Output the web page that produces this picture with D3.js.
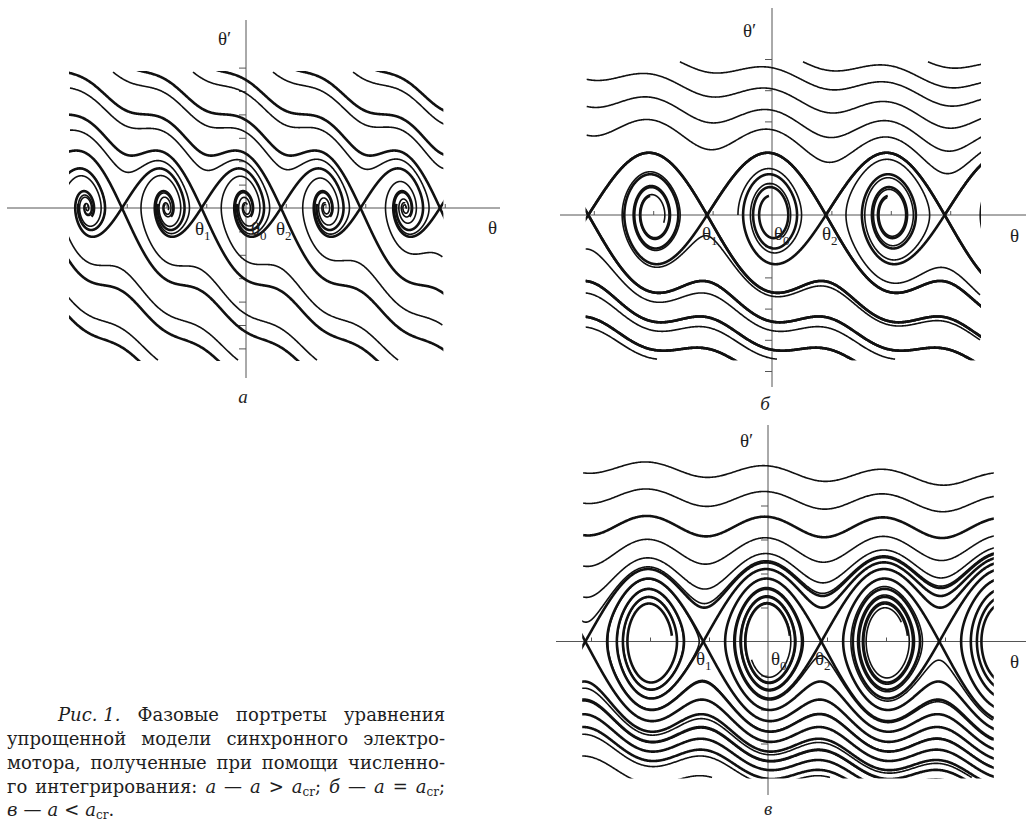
<!DOCTYPE html>
<html>
<head>
<meta charset="utf-8">
<script src="https://cdn.jsdelivr.net/npm/d3@7"></script>
<style>
  body { margin: 0; background: #fff; }
  svg { display: block; }
  text { font-family: "Liberation Serif", "DejaVu Serif", serif; fill: #1e1e1e; }
  .caption { font-family: "DejaVu Serif", "Liberation Serif", serif; }
</style>
</head>
<body>
<script>
var width = 1026, height = 822;
var PI = Math.PI;

// model: theta'' + a theta' + sin(theta) = b ; plotted against phi = theta - asin(b)
var modelA = [0.33, 0.187];   // [a, b]
var modelB = [null, 0.145];   // a = a_cr, found numerically
var modelC = [0.048, 0.15];

// plot boxes [phiMin, phiMax, vMin, vMax]
var boxA = [-13.91, 15.52, -6.5, 5.81];
var boxB = [-9.8, 11.0, -4.62, 4.91];
var boxC = [-9.84, 11.97, -4.0, 5.3];

// ordinary trajectories, start points: [phi, theta', thick, own time]
var startsA = [
  [-10.51, 5.81, 0], [-4.19, 5.81, 0], [2.13, 5.81, 0], [8.46, 5.81, 0],
  [-13.91, 5.13, 0], [-13.91, 3.33, 0], [-13.91, 1.54, 0],
  [-6.96, -6.5, 0], [-0.63, -6.5, 0], [5.61, -6.5, 0], [12.02, -6.5, 0],
  [15.52, -2.09, 0], [15.52, -5.0, 0]
];
var startsB = [
  [-4.87, 4.91, 0], [1.64, 4.91, 0], [8.25, 4.91, 0],
  [-9.8, 4.35, 0], [-9.8, 3.48, 0], [-9.8, 2.56, 0],
  [-6.08, -4.62, 0], [0.26, -4.62, 0], [6.51, -4.62, 0],
  [11.0, -2.56, 0], [11.0, -4.0, 0],
  [-1.8, 0, 0, 12]
];
var startsC = [
  [-9.84, 4.96, 0], [-9.84, 4.07, 0], [-9.84, 3.13, 1], [-9.84, 2.22, 0], [-9.84, 1.31, 0],
  [-2.98, -4.0, 0], [3.3, -4.0, 0], [5.74, -4.0, 0], [10.85, -4.0, 0],
  [11.97, -2.31, 0], [11.97, -2.9, 0], [11.97, -3.69, 0]
];

// [time of ordinary curves, time of unstable separatrices, first saddle, last saddle, first saddle with unstable branches]
var timesA = [20, 16, -5, 5, -5];
var timesB = [28, 26, -4, 4, -4];
var timesC = [32, 29, -5, 4, -2];

var svg = d3.select("body").append("svg").attr("width", width).attr("height", height);

function field(a, b) {
  var th0 = Math.asin(b);
  return function(p) { return [p[1], b - Math.sin(p[0] + th0) - a * p[1]]; };
}
function step(f, p, h) {
  var k1 = f(p);
  var k2 = f([p[0] + h / 2 * k1[0], p[1] + h / 2 * k1[1]]);
  var k3 = f([p[0] + h / 2 * k2[0], p[1] + h / 2 * k2[1]]);
  var k4 = f([p[0] + h * k3[0], p[1] + h * k3[1]]);
  return [p[0] + h / 6 * (k1[0] + 2 * k2[0] + 2 * k3[0] + k4[0]),
          p[1] + h / 6 * (k1[1] + 2 * k2[1] + 2 * k3[1] + k4[1])];
}
function run(f, p, h, T, lim) {
  var pts = [p];
  for (var t = 0; t < T; t += Math.abs(h)) {
    p = step(f, p, h);
    pts.push(p);
    if (p[0] < lim[0] || p[0] > lim[1] || p[1] < lim[2] || p[1] > lim[3]) break;
  }
  return pts;
}
function branches(a, b, s) {
  var c = Math.cos(Math.asin(b));
  var r = Math.sqrt(a * a + 4 * c);
  var lu = (-a + r) / 2, ls = (-a - r) / 2, e = 1e-3;
  var nu = Math.hypot(1, lu), ns = Math.hypot(1, ls);
  return [
    {p: [s + e / nu, e * lu / nu], h: 0.01, kind: "u"},
    {p: [s - e / nu, -e * lu / nu], h: 0.01, kind: "u"},
    {p: [s - e / ns, -e * ls / ns], h: -0.01, kind: "s"},
    {p: [s + e / ns, e * ls / ns], h: -0.01, kind: "s"}
  ];
}
// a_cr: the unstable branch of one saddle lands on the next one
function critical(b) {
  var lo = 0.01, hi = 0.6, s = PI - 2 * Math.asin(b);
  for (var i = 0; i < 40; i++) {
    var a = (lo + hi) / 2, f = field(a, b), p = branches(a, b, s)[0].p, over = false;
    for (var t = 0; t < 200; t += 0.005) {
      p = step(f, p, 0.005);
      if (p[1] <= 0) break;
      if (p[0] > s + 2 * PI) { over = true; break; }
    }
    if (over) lo = a; else hi = a;
  }
  return (lo + hi) / 2;
}
modelB[0] = critical(modelB[1]);

function drawPanel(cfg) {
  var a = cfg.model[0], b = cfg.model[1], box = cfg.box, tm = cfg.times;
  var x = d3.scaleLinear().domain([-2 * PI, 2 * PI]).range(cfg.xr);
  var y = d3.scaleLinear().domain([-1, 1]).range(cfg.yr);
  var g = svg.append("g");

  g.append("line").attr("x1", cfg.axisX[0]).attr("x2", cfg.axisX[1])
    .attr("y1", y(0)).attr("y2", y(0)).attr("stroke", "#555").attr("stroke-width", 1);
  g.append("line").attr("x1", x(0)).attr("x2", x(0))
    .attr("y1", cfg.axisY[0]).attr("y2", cfg.axisY[1]).attr("stroke", "#555").attr("stroke-width", 1);

  var xa = g.append("g").attr("transform", "translate(0," + y(0) + ")")
    .call(d3.axisTop(x).tickValues(cfg.xTicks.map(function(k){ return k * PI; })).tickSize(4).tickFormat(""));
  var ya = g.append("g").attr("transform", "translate(" + x(0) + ",0)")
    .call(d3.axisLeft(y).tickValues(cfg.yTicks).tickSize(7).tickFormat(""));
  [xa, ya].forEach(function(s){ s.select(".domain").remove(); s.selectAll("line").attr("stroke", "#555"); });

  var id = "clip" + cfg.id;
  svg.append("clipPath").attr("id", id).append("rect")
    .attr("x", x(box[0]) - 1).attr("y", y(box[3]) - 1)
    .attr("width", x(box[1]) - x(box[0]) + 2).attr("height", y(box[2]) - y(box[3]) + 2);
  var cg = g.append("g").attr("clip-path", "url(#" + id + ")")
    .attr("fill", "none").attr("stroke", "#111").attr("stroke-linejoin", "round");
  var line = d3.line().x(function(d){ return x(d[0]); }).y(function(d){ return y(d[1]); });
  var lim = [box[0] - 16, box[1] + 16, box[2] - 0.4, box[3] + 0.4];
  var f = field(a, b);

  cfg.starts.forEach(function(s) {
    cg.append("path").attr("d", line(run(f, [s[0], s[1]], 0.01, s[3] || tm[0], lim)))
      .attr("stroke-width", s[2] ? 2.6 : 1.6);
  });

  // separatrices of the saddles, drawn heavy
  var s0 = PI - 2 * Math.asin(b);
  for (var k = tm[2]; k <= tm[3]; k++) {
    branches(a, b, s0 + 2 * PI * k).forEach(function(br) {
      if (br.kind == "u" && k < tm[4]) return;
      var T = br.kind == "u" ? tm[1] : 60;
      cg.append("path").attr("d", line(run(f, br.p, br.h, T, lim))).attr("stroke-width", 2.6);
    });
  }

  cfg.labels.forEach(function(l) {
    var t = g.append("text").attr("x", l[2]).attr("y", l[3]).style("font-size", "19px").text(l[0]);
    if (l[1]) t.append("tspan").attr("dy", 5).style("font-size", "13px").text(l[1]);
  });
  g.append("text").attr("x", cfg.letter[1]).attr("y", cfg.letter[2]).attr("text-anchor", "middle")
    .style("font-size", "19px").style("font-style", "italic").text(cfg.letter[0]);
}

var TH = "\u03b8";
drawPanel({
  id: "A", model: modelA, box: boxA, starts: startsA, times: timesA,
  xr: [166.5, 325.5], yr: [231.4, 184.6], axisX: [7, 500], axisY: [20, 378],
  xTicks: [-4, -3, -2, -1, 1, 2, 3, 4, 5], yTicks: [-6, -5, -4, -3, -2, -1, 1, 2, 3, 4, 5, 6],
  labels: [[TH + "\u2032", "", 218, 45], [TH, "", 488, 234], [TH, "1", 195, 235], [TH, "0", 251, 235], [TH, "2", 276, 235]],
  letter: ["а", 243, 403]
});
drawPanel({
  id: "B", model: modelB, box: boxB, starts: startsB, times: timesB,
  xr: [653.2, 890.8], yr: [246.2, 183.8], axisX: [560, 1026], axisY: [8, 387],
  xTicks: [-3, -2, -1, 1, 2, 3], yTicks: [-5, -4, -3, -2, -1, 1, 2, 3, 4, 5],
  labels: [[TH + "\u2032", "", 743, 37], [TH, "", 1010, 242], [TH, "1", 702, 240], [TH, "0", 774, 240], [TH, "2", 822, 240]],
  letter: ["б", 765, 410]
});
drawPanel({
  id: "C", model: modelC, box: boxC, starts: startsC, times: timesC,
  xr: [650, 886], yr: [675.5, 607.5], axisX: [556, 1026], axisY: [425, 795],
  xTicks: [-3, -2, -1, 1, 2, 3], yTicks: [-4, -3, -2, -1, 1, 2, 3, 4],
  labels: [[TH + "\u2032", "", 740, 447], [TH, "", 1010, 668], [TH, "1", 696, 665], [TH, "0", 771, 665], [TH, "2", 815, 665]],
  letter: ["в", 768, 815]
});

// caption, justified line by line
var captionLines = [
  [[["Рис. 1.", "i"]], [["Фазовые", "r"]], [["портреты", "r"]], [["уравнения", "r"]]],
  [[["упрощенной", "r"]], [["модели", "r"]], [["синхронного", "r"]], [["электро-", "r"]]],
  [[["мотора,", "r"]], [["полученные", "r"]], [["при", "r"]], [["помощи", "r"]], [["численно-", "r"]]],
  [[["го", "r"]], [["интегрирования:", "r"]], [["а", "i"]], [["—", "r"]], [["a", "i"]], [[">", "r"]],
   [["a", "i"], ["cr", "s"], [";", "r"]], [["б", "i"]], [["—", "r"]], [["a", "i"]], [["=", "r"]],
   [["a", "i"], ["cr", "s"], [";", "r"]]],
  [[["в", "i"]], [["—", "r"]], [["a", "i"]], [["<", "r"]], [["a", "i"], ["cr", "s"], [".", "r"]]]
];
var captionX = [58, 7, 7, 7, 7], captionY = [721, 745, 769, 793, 816], captionRight = 445;

captionLines.forEach(function(tokens, i) {
  var nodes = tokens.map(function(tok) {
    var t = svg.append("text").attr("class", "caption").attr("y", captionY[i]).style("font-size", "18px");
    tok.forEach(function(seg, j) {
      var ts = t.append("tspan").text(seg[0]);
      if (seg[1] == "i") ts.style("font-style", "italic");
      if (seg[1] == "s") ts.style("font-size", "12px").attr("dy", 3);
      if (j > 0 && tok[j - 1][1] == "s") ts.attr("dy", -3);
    });
    return t;
  });
  var w = nodes.map(function(t){ return t.node().getComputedTextLength(); });
  var total = d3.sum(w);
  var gap = i < captionLines.length - 1 ? (captionRight - captionX[i] - total) / (nodes.length - 1) : 6;
  var cx = captionX[i];
  nodes.forEach(function(t, k) { t.attr("x", cx); cx += w[k] + gap; });
});
</script>
</body>
</html>
